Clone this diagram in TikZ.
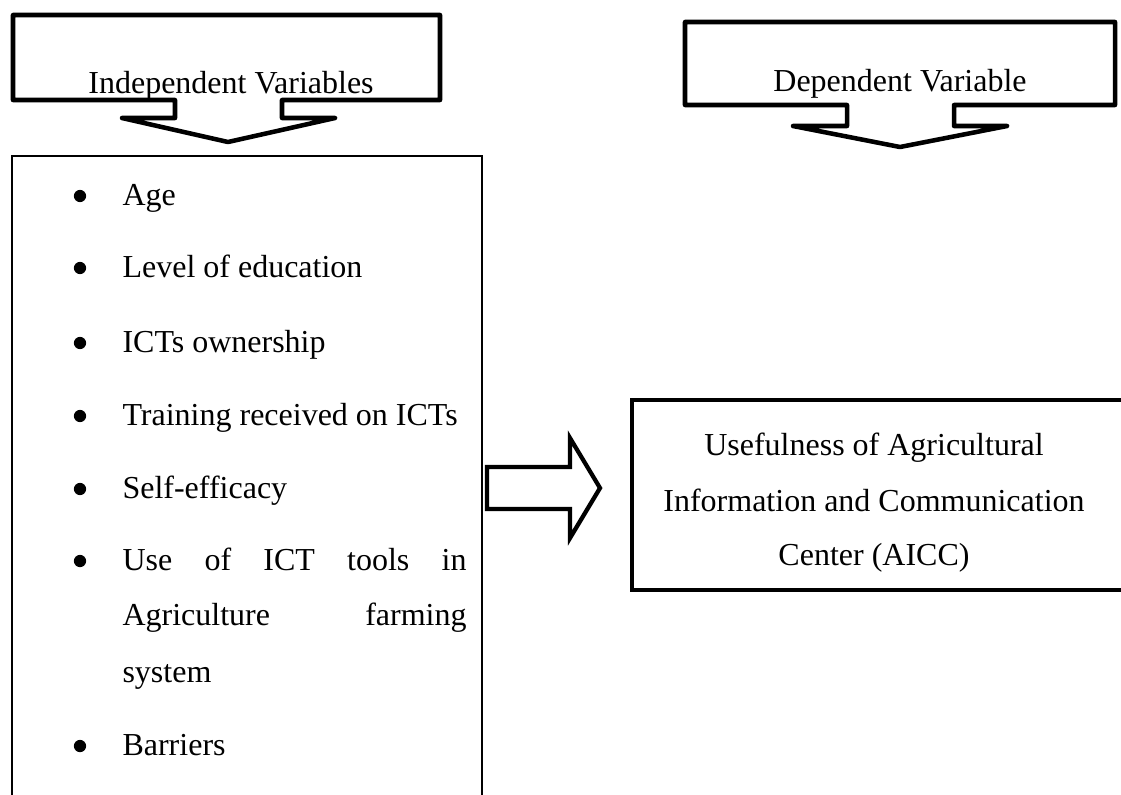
\documentclass[tikz,border=0pt]{standalone}
\usepackage{fontspec}
\setmainfont{Liberation Serif}
\begin{document}
\begin{tikzpicture}[x=0.375pt,y=-0.375pt,
  callout/.style={draw=black,line width=1.7pt,line join=round},
  listbox/.style={draw=black,line width=1pt},
  resultbox/.style={draw=black,line width=1.6pt},
  bigarrow/.style={draw=black,line width=1.6pt,line join=miter},
  txt/.style={inner sep=0pt,font=\fontsize{12}{14}\selectfont},
  item/.style={txt,anchor=base west},
  bul/.style={fill=black}]
\useasboundingbox (0,0) rectangle (1121,794);

% Independent variables callout
\draw[callout] (13,15) -- (440,15) -- (440,100) -- (282,100) -- (282,118) -- (335,118)
  -- (228,142) -- (122,118) -- (175,118) -- (175,100) -- (13,100) -- cycle;
\node[txt,anchor=base] (indep) at (231,93) {Independent Variables};

% Dependent variable callout
\draw[callout] (685,22) -- (1115,22) -- (1115,105) -- (954,105) -- (954,126) -- (1007,126)
  -- (900,147) -- (793,126) -- (847,126) -- (847,105) -- (685,105) -- cycle;
\node[txt,anchor=base] (dep) at (900,91) {Dependent Variable};

% List box (open at the bottom)
\draw[listbox] (12,800) -- (12,156) -- (482,156) -- (482,800);

\node[item] (age) at (122,205) {Age};
\node[item] (edu) at (122,277) {Level of education};
\node[item] (own) at (122,352) {ICTs ownership};
\node[item] (train) at (122,425) {Training received on ICTs};
\node[item] (self) at (122,498) {Self-efficacy};
\node[item] (use1) at (122,570) {\makebox[129pt][s]{Use of ICT tools in}};
\node[item] (use2) at (122,625) {\makebox[129pt][s]{Agriculture farming}};
\node[item] (use3) at (122,682) {system};
\node[item] (bar) at (122,755) {Barriers};

\foreach \yy in {205,277,352,425,498,570,755}
  \fill[bul] (80,\yy-9) circle[radius=2.3pt];

% Arrow
\draw[bigarrow] (487,467) -- (570,467) -- (570,438) -- (600,488) -- (570,538)
  -- (570,509) -- (487,509) -- cycle;

% Result box (open at the right)
\draw[resultbox] (1130,400) -- (632,400) -- (632,590) -- (1130,590);
\node[txt,anchor=base] (res1) at (874,455) {Usefulness of Agricultural};
\node[txt,anchor=base] (res2) at (874,511) {Information and Communication};
\node[txt,anchor=base] (res3) at (874,565) {Center (AICC)};
\end{tikzpicture}
\end{document}
